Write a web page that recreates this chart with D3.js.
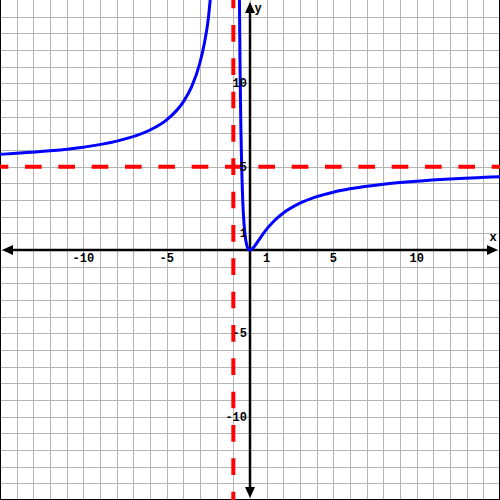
<!DOCTYPE html>
<html><head><meta charset="utf-8">
<script src="https://cdn.jsdelivr.net/npm/d3@7"></script>
<style>html,body{margin:0;padding:0;background:#fff}svg{display:block}</style>
</head><body>
<script>
// ---- data ----
const xDomain = [-15, 15];
const yDomain = [-15, 15];
const xTickValues = [-10, -5, 1, 5, 10];
const xTickLabels = ["-10", "-5", "1", "5", "10"];
const yTickValues = [10, 5, 1, -5, -10];
const yTickLabels = ["10", "5", "1", "-5", "-10"];
const verticalAsymptoteX = -1;
const horizontalAsymptoteY = 5;
// left branch of the curve (x < -1)
const leftX = [-15, -14, -12, -10, -8, -6, -5, -4, -3.5, -3, -2.75, -2.5, -2.37];
const leftY = [5.74, 5.80, 5.95, 6.17, 6.53, 7.2, 7.81, 8.89, 9.8, 11.25, 12.35, 13.89, 15.2];
// right branch of the curve (x > -1)
const rightX = [-0.635, -0.6, -0.55, -0.5, -0.45, -0.4, -0.3, -0.2, -0.1, 0, 0.25, 0.5, 1, 1.5, 2, 3, 4, 5, 6, 8, 10, 12, 15];
const rightY = [15.2, 11.25, 7.47, 5.0, 3.35, 2.22, 0.92, 0.31, 0.06, 0, 0.2, 0.56, 1.25, 1.8, 2.22, 2.81, 3.2, 3.47, 3.67, 3.95, 4.13, 4.26, 4.39];

const W = 500, H = 500;
const x = d3.scaleLinear().domain(xDomain).range([0, W]);
const y = d3.scaleLinear().domain(yDomain).range([H, 0]);

const svg = d3.select("body").append("svg").attr("width", W).attr("height", H);
svg.append("defs").append("clipPath").attr("id", "clip")
  .append("rect").attr("x", 0).attr("y", 0).attr("width", W).attr("height", H);

// grid
const gridVals = d3.range(xDomain[0] + 1, xDomain[1]);
const grid = svg.append("g").attr("stroke", "#b4b4b4").attr("stroke-width", 1);
grid.selectAll(".gv").data(gridVals).join("line")
  .attr("x1", d => Math.round(x(d)) + 0.5).attr("x2", d => Math.round(x(d)) + 0.5)
  .attr("y1", 0).attr("y2", H);
grid.selectAll(".gh").data(d3.range(yDomain[0] + 1, yDomain[1])).join("line")
  .attr("y1", d => Math.round(y(d)) + 0.5).attr("y2", d => Math.round(y(d)) + 0.5)
  .attr("x1", 0).attr("x2", W);

// border (left, right, bottom)
const border = svg.append("g").attr("stroke", "#000").attr("stroke-width", 1);
border.append("line").attr("x1", 0.5).attr("x2", 0.5).attr("y1", 0).attr("y2", H);
border.append("line").attr("x1", W - 0.5).attr("x2", W - 0.5).attr("y1", 0).attr("y2", H);
border.append("line").attr("x1", 0).attr("x2", W).attr("y1", H - 0.5).attr("y2", H - 0.5);

// axes
const ax = svg.append("g");
ax.append("line").attr("x1", 10).attr("x2", W - 10).attr("y1", y(0)).attr("y2", y(0))
  .attr("stroke", "#000").attr("stroke-width", 2.5);
ax.append("line").attr("x1", x(0)).attr("x2", x(0)).attr("y1", 10).attr("y2", H - 10)
  .attr("stroke", "#000").attr("stroke-width", 2.5);
const arrows = [
  [[2, y(0)], [13, y(0) - 5], [13, y(0) + 5]],
  [[W - 2, y(0)], [W - 13, y(0) - 5], [W - 13, y(0) + 5]],
  [[x(0), 2], [x(0) - 5, 13], [x(0) + 5, 13]],
  [[x(0), H - 2], [x(0) - 5, H - 13], [x(0) + 5, H - 13]]
];
ax.selectAll("path.arrow").data(arrows).join("path").attr("class", "arrow")
  .attr("d", d => "M" + d.join("L") + "Z").attr("fill", "#000");

// asymptotes
const dash = svg.append("g").attr("stroke", "#ff0000").attr("stroke-width", 4)
  .attr("stroke-dasharray", "16.667,16.667").attr("stroke-dashoffset", 8.333);
dash.append("line").attr("x1", x(verticalAsymptoteX)).attr("x2", x(verticalAsymptoteX))
  .attr("y1", 0).attr("y2", H);
dash.append("line").attr("x1", 0).attr("x2", W)
  .attr("y1", y(horizontalAsymptoteY)).attr("y2", y(horizontalAsymptoteY));

// curve
const line = d3.line().x(d => x(d[0])).y(d => y(d[1])).curve(d3.curveMonotoneX);
const branches = [d3.zip(leftX, leftY), d3.zip(rightX, rightY)];
svg.append("g").attr("clip-path", "url(#clip)").selectAll("path").data(branches).join("path")
  .attr("d", line).attr("fill", "none").attr("stroke", "#0000ff").attr("stroke-width", 3);

// labels
const font = "'Liberation Mono', 'DejaVu Sans Mono', monospace";
const lab = svg.append("g").attr("font-family", font).attr("font-weight", "bold")
  .attr("font-size", 12).attr("fill", "#000");
lab.selectAll(".xl").data(xTickValues).join("text")
  .attr("x", d => x(d)).attr("y", 262).attr("text-anchor", "middle")
  .text((d, i) => xTickLabels[i]);
lab.selectAll(".yl").data(yTickValues).join("text")
  .attr("x", 247).attr("y", d => y(d) + 4).attr("text-anchor", "end")
  .text((d, i) => yTickLabels[i]);
lab.append("text").attr("x", 493).attr("y", 241).attr("text-anchor", "middle").text("x");
lab.append("text").attr("x", 258).attr("y", 12).attr("text-anchor", "middle").text("y");
</script>
</body></html>
